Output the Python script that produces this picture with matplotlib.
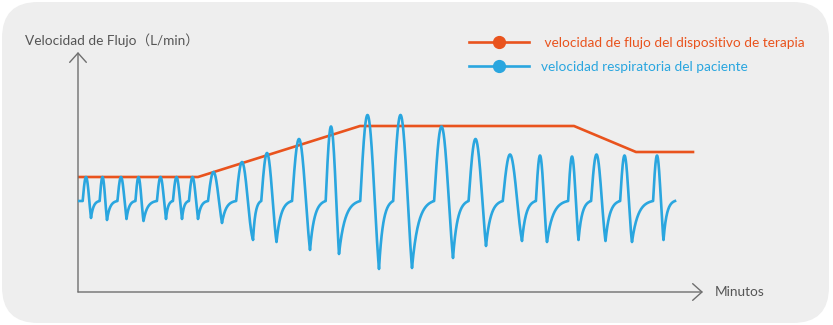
import numpy as np
import matplotlib
matplotlib.use("Agg")
import matplotlib.pyplot as plt
from matplotlib.lines import Line2D
from matplotlib.patches import FancyBboxPatch
from matplotlib.transforms import IdentityTransform

# Velocidad de flujo del dispositivo (L/min) en los puntos de quiebre
device_min = [0.0, 12.0, 28.2, 49.6, 55.8, 61.5]
device_flow = [46.0, 46.0, 66.4, 66.4, 56.0, 56.0]

# Respiración del paciente: un valor por ciclo (pico y valle)
peak_min = [0.80, 2.45, 4.30, 6.05, 8.25, 9.85, 11.45, 13.55, 16.4, 18.9, 22.1,
            25.3, 28.95, 32.25, 36.35, 39.75, 43.2, 46.2, 49.4, 51.85, 54.65, 57.9]
peak_flow = [46.0, 46.0, 46.0, 46.0, 46.0, 46.0, 46.0, 48.0, 52.0, 55.6, 61.2,
             66.2, 70.8, 70.8, 66.2, 61.2, 55.0, 54.6, 54.2, 55.0, 54.6, 54.6]
trough_min = [1.30, 2.90, 4.85, 6.55, 8.80, 10.4, 12.0, 14.4, 17.5, 19.85, 23.2,
              26.1, 30.1, 33.4, 37.5, 40.8, 44.4, 46.9, 50.05, 52.75, 55.4, 58.55]
trough_flow = [29.6, 28.8, 29.2, 28.4, 29.2, 29.2, 29.2, 27.6, 20.8, 20.0, 16.8,
               15.2, 9.2, 9.6, 13.6, 18.4, 20.4, 20.0, 20.8, 20.4, 20.0, 20.8]
base_flow = 36.4      # nivel de reposo entre respiraciones
end_min = 59.7        # fin del trazo

ORANGE = "#e9531d"
BLUE = "#2aa6df"
GRAY = "#6f6f6f"
TEXT = "#555555"
FONT = ["Lato", "Noto Sans CJK SC"]


def breath_trace():
    """Une los ciclos: subida/caída senoidal hasta el valle y
    recuperación exponencial hasta el nivel de reposo."""
    onsets, shapes = [], []
    for p_t, p_y, v_t, v_y in zip(peak_min, peak_flow, trough_min, trough_flow):
        amp = p_y - base_flow
        phi_end = np.pi + np.arcsin(min((base_flow - v_y) / amp, 0.98))
        rise = (v_t - p_t) / (phi_end / (np.pi / 2) - 1)
        onsets.append(p_t - rise)
        shapes.append((amp, phi_end, rise, v_t, v_y))

    xs, ys = [0.0], [base_flow]
    k = 3.5
    for i, (amp, phi_end, rise, v_t, v_y) in enumerate(shapes):
        phi = np.linspace(0, phi_end, 80)
        xs.extend(onsets[i] + phi / (np.pi / 2) * rise)
        ys.extend(base_flow + amp * np.sin(phi))
        nxt = onsets[i + 1] if i + 1 < len(onsets) else end_min
        u = np.linspace(0, 1, 50)
        rec = (np.exp(-k * u) - np.exp(-k)) / (1 - np.exp(-k))
        xs.extend(v_t + u * (nxt - v_t))
        ys.extend(base_flow - (base_flow - v_y) * rec)
    return np.array(xs), np.array(ys)


fig = plt.figure(figsize=(8.33, 3.25), dpi=100)
fig.patch.set_facecolor("white")
fig.patches.append(FancyBboxPatch((2, 2), 827, 321,
                                  boxstyle="round,pad=0,rounding_size=36",
                                  transform=IdentityTransform(),
                                  facecolor="#eeeeee", edgecolor="none",
                                  zorder=-10))

ax = fig.add_axes([78 / 833, 33 / 325, 625 / 833, 240 / 325])
ax.set_xlim(0, 62.5)
ax.set_ylim(0, 96)
ax.set_axis_off()

arrow = dict(arrowstyle="->,head_length=0.67,head_width=0.6", color=GRAY,
             lw=1.0, shrinkA=0, shrinkB=0, mutation_scale=10)
ax.annotate("", xy=(0, 1), xytext=(0, 0), xycoords="axes fraction", arrowprops=arrow)
ax.annotate("", xy=(1, 0), xytext=(0, 0), xycoords="axes fraction", arrowprops=arrow)

bx, by = breath_trace()
ax.plot(bx, by, color=BLUE, lw=1.9, solid_joinstyle="round", zorder=3)
ax.plot(device_min, device_flow, color=ORANGE, lw=1.9, zorder=2)

ax.text(-53 / 625, (292 - 40) / 240, "Velocidad de Flujo（L/min）",
        transform=ax.transAxes, family=FONT, fontsize=9.8, color=TEXT,
        ha="left", va="center")
ax.text(1.019, 0, "Minutos", transform=ax.transAxes, family=FONT,
        fontsize=9.8, color=TEXT, ha="left", va="center")

handles = [Line2D([], [], color=ORANGE, lw=1.9, marker="o", markersize=8.5),
           Line2D([], [], color=BLUE, lw=1.9, marker="o", markersize=8.5)]
leg = ax.legend(handles, [" velocidad de flujo del dispositivo de terapia",
                          "velocidad respiratoria del paciente"],
                loc="upper left", bbox_to_anchor=(469 / 833, 1 - 37 / 325),
                bbox_transform=fig.transFigure, frameon=False, borderpad=0,
                borderaxespad=0, handlelength=4.4, handletextpad=0.9,
                labelspacing=0.85, prop={"family": FONT, "size": 9.8})
for txt, col in zip(leg.get_texts(), [ORANGE, BLUE]):
    txt.set_color(col)

fig.savefig("out.png", dpi=100)
